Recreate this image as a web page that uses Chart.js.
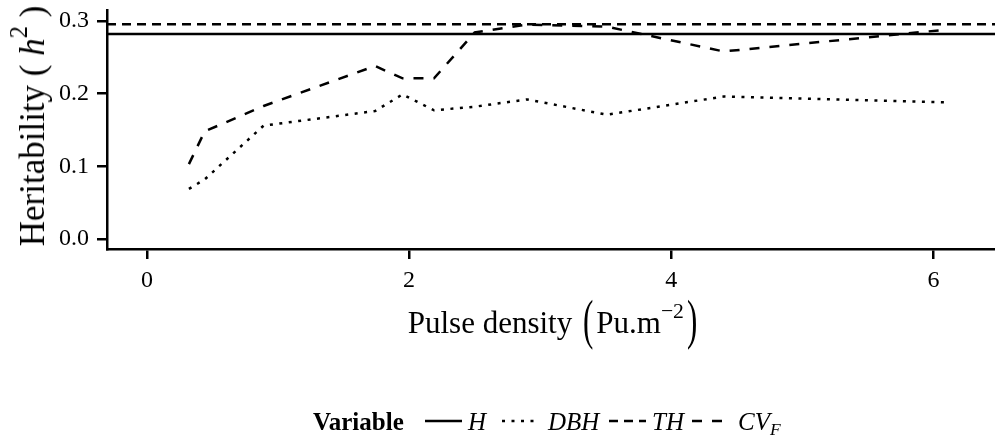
<!DOCTYPE html>
<html>
<head>
<meta charset="utf-8">
<script src="https://cdn.jsdelivr.net/npm/chart.js@4.4.0/dist/chart.umd.min.js"></script>
<style>
    html, body { margin: 0; padding: 0; background: #fff; }
    #wrap { position: relative; width: 995px; height: 437px; font-family: 'Liberation Serif', 'Times New Roman', serif; color: #000; }
    #chart { position: absolute; left: 0; top: 0; }
    #yTitle { position: absolute; left: 33px; top: 126px; transform: translate(-50%, -50%) rotate(-90deg); white-space: nowrap; font-size: 35px; }
    #xTitle { position: absolute; left: 554px; top: 323px; transform: translate(-50%, -50%); white-space: nowrap; font-size: 31px; }
    .bigParen { display: inline-block; transform: scale(1, 1.75); transform-origin: 50% 60%; margin: 0 3px; }
    #legend { position: absolute; left: 0; top: 0; width: 995px; height: 437px; font-size: 25px; }
    #legend > * { position: absolute; top: 421px; transform: translateY(-50%); white-space: nowrap; line-height: 1; }
    #legend svg { display: block; }
    sup { font-size: 0.7em; vertical-align: 0.7em; line-height: 0; }
    sub { font-size: 0.7em; vertical-align: -0.3em; line-height: 0; }
</style>
</head>
<body>
<div id="wrap">
    <canvas id="chart" width="995" height="437"></canvas>
    <div id="yTitle">Heritability ( <i>h</i><sup>2</sup> )</div>
    <div id="xTitle">Pulse density <span class="bigParen">(</span>Pu.m<sup>&minus;2</sup><span class="bigParen">)</span></div>
    <div id="legend"></div>
</div>
<script>
// Pulse density values (Pu.m^-2) where heritability was estimated
const pulseDensity = [0.32, 0.44, 0.89, 1.74, 1.95, 2.19, 2.5, 2.9, 3.51, 4.4, 6.1];
const dbhValues = [0.069, 0.082, 0.156, 0.176, 0.199, 0.177, 0.182, 0.192, 0.171, 0.196, 0.188];
const cvfValues = [0.103, 0.148, 0.183, 0.238, 0.221, 0.221, 0.284, 0.295, 0.292, 0.258, 0.288];
// reference heritabilities (constant over pulse density)
const hValue = 0.282;
const thValue = 0.2955;

const xLimits = [-0.305, 6.47];
const yLimits = [-0.0137, 0.315];
const xTicks = [0, 2, 4, 6];
const yTicks = [0, 0.1, 0.2, 0.3];

const legendTitle = 'Variable';
const legendLabels = ['<i>H</i>', '<i>DBH</i>', '<i>TH</i>', '<i>CV<sub>F</sub></i>'];
const lineDashes = [[], [3, 6.5], [9, 6], [10, 10]];

// legend layout (pixels): key start and label start, keys are all the same width
const legendTitleX = 313;
const legendKeyX = [425, 502, 609, 692];
const legendKeyW = 37;
const legendLabelX = [468, 548, 652, 738];

const fontFamily = "'Liberation Serif', 'Times New Roman', serif";

function pairs(xs, ys) {
    return xs.map((x, i) => ({ x: x, y: ys[i] }));
}

function flatLine(value) {
    return xLimits.map(x => ({ x: x, y: value }));
}

const lineStyle = {
    borderColor: '#000',
    borderWidth: 2.5,
    pointRadius: 0,
    fill: false,
    tension: 0
};

new Chart(document.getElementById('chart').getContext('2d'), {
    type: 'line',
    data: {
        datasets: [
            Object.assign({ label: 'H', data: flatLine(hValue), borderDash: lineDashes[0] }, lineStyle),
            Object.assign({ label: 'DBH', data: pairs(pulseDensity, dbhValues), borderDash: lineDashes[1] }, lineStyle),
            Object.assign({ label: 'TH', data: flatLine(thValue), borderDash: lineDashes[2] }, lineStyle),
            Object.assign({ label: 'CVF', data: pairs(pulseDensity, cvfValues), borderDash: lineDashes[3] }, lineStyle)
        ]
    },
    options: {
        responsive: false,
        animation: false,
        devicePixelRatio: 1,
        layout: { padding: { top: 10, right: 0, bottom: 0, left: 0 } },
        plugins: {
            legend: { display: false },
            tooltip: { enabled: false }
        },
        scales: {
            x: {
                type: 'linear',
                min: xLimits[0],
                max: xLimits[1],
                afterBuildTicks: scale => { scale.ticks = xTicks.map(v => ({ value: v })); },
                afterFit: scale => {
                    scale.height = 188;
                    scale.paddingLeft = 0;
                    scale.paddingRight = 0;
                },
                ticks: {
                    color: '#000',
                    font: { family: fontFamily, size: 24 },
                    padding: 7,
                    maxRotation: 0
                },
                grid: { drawOnChartArea: false, drawTicks: true, tickLength: 10, color: '#000', lineWidth: 2.5 },
                border: { display: true, color: '#000', width: 2.5 }
            },
            y: {
                type: 'linear',
                min: yLimits[0],
                max: yLimits[1],
                afterBuildTicks: scale => { scale.ticks = yTicks.map(v => ({ value: v })); },
                afterFit: scale => {
                    scale.width = 107;
                    scale.paddingTop = 0;
                    scale.paddingBottom = 0;
                },
                ticks: {
                    color: '#000',
                    font: { family: fontFamily, size: 24 },
                    padding: 8,
                    callback: v => v.toFixed(1)
                },
                grid: { drawOnChartArea: false, drawTicks: true, tickLength: 10, color: '#000', lineWidth: 2.5 },
                border: { display: true, color: '#000', width: 2.5 }
            }
        }
    }
});

// Legend: "Variable" followed by line keys and labels
const legend = document.getElementById('legend');
let html = `<b style="left:${legendTitleX}px">${legendTitle}</b>`;
legendLabels.forEach((label, i) => {
    const dash = lineDashes[i].length ? lineDashes[i].join(' ') : 'none';
    html += `<span style="left:${legendKeyX[i]}px"><svg width="${legendKeyW}" height="10"><line x1="0" y1="5" x2="${legendKeyW}" y2="5" stroke="#000" stroke-width="2.5" stroke-dasharray="${dash}"/></svg></span>`;
    html += `<span style="left:${legendLabelX[i]}px">${label}</span>`;
});
legend.innerHTML = html;
</script>
</body>
</html>
